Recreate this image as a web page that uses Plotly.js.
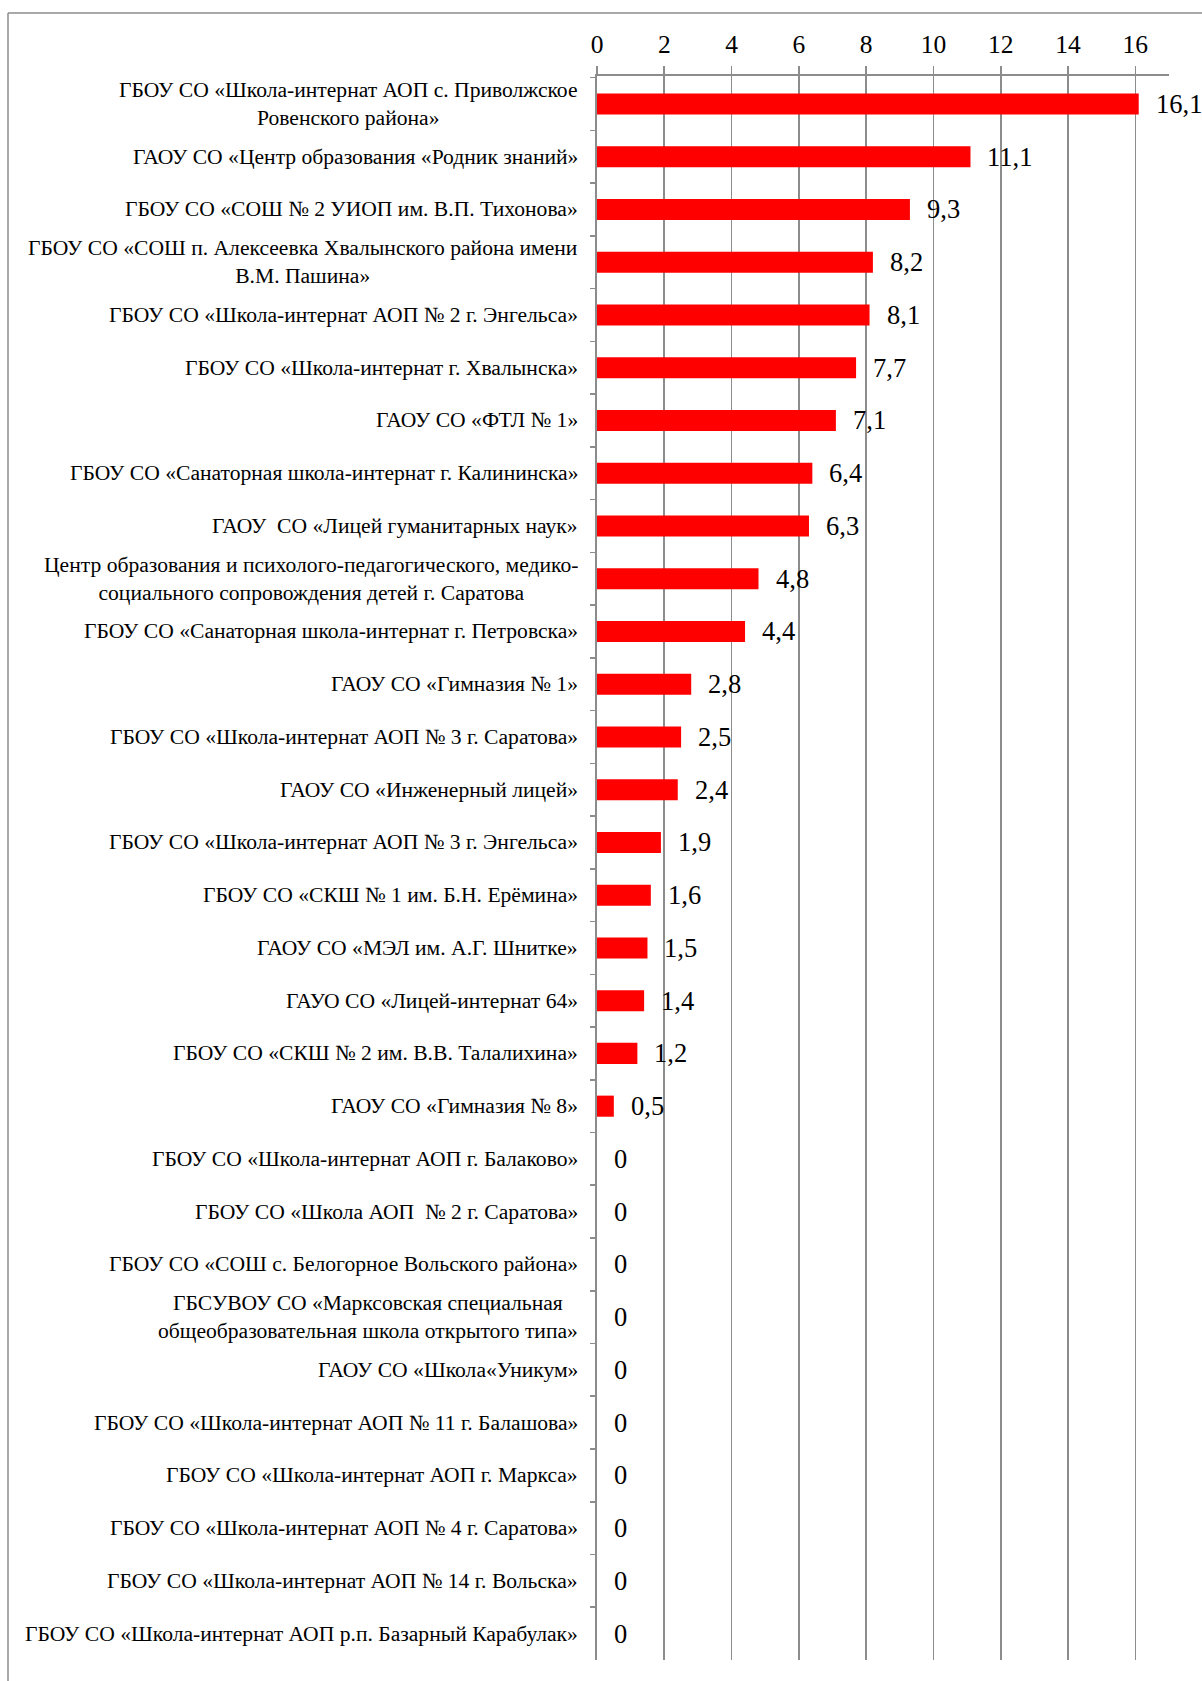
<!DOCTYPE html>
<html>
<head>
<meta charset="utf-8">
<script src="https://cdn.plot.ly/plotly-3.0.1.min.js"></script>
<style>
  html, body { margin: 0; padding: 0; background: #ffffff; }
  #chart { width: 1202px; height: 1681px; }
</style>
</head>
<body>
<div id="chart"></div>
<script>
// ---- Data ----
var categories = [
  "ГБОУ СО «Школа-интернат АОП с. Приволжское<br>Ровенского района»",
  "ГАОУ СО «Центр образования «Родник знаний»",
  "ГБОУ СО «СОШ № 2 УИОП им. В.П. Тихонова»",
  "ГБОУ СО «СОШ п. Алексеевка Хвалынского района имени<br>В.М. Пашина»",
  "ГБОУ СО «Школа-интернат АОП № 2 г. Энгельса»",
  "ГБОУ СО «Школа-интернат г. Хвалынска»",
  "ГАОУ СО «ФТЛ № 1»",
  "ГБОУ СО «Санаторная школа-интернат г. Калининска»",
  "ГАОУ\u00a0 СО «Лицей гуманитарных наук»",
  "Центр образования и психолого-педагогического, медико-<br>социального сопровождения детей г. Саратова",
  "ГБОУ СО «Санаторная школа-интернат г. Петровска»",
  "ГАОУ СО «Гимназия № 1»",
  "ГБОУ СО «Школа-интернат АОП № 3 г. Саратова»",
  "ГАОУ СО «Инженерный лицей»",
  "ГБОУ СО «Школа-интернат АОП № 3 г. Энгельса»",
  "ГБОУ СО «СКШ № 1 им. Б.Н. Ерёмина»",
  "ГАОУ СО «МЭЛ им. А.Г. Шнитке»",
  "ГАУО СО «Лицей-интернат 64»",
  "ГБОУ СО «СКШ № 2 им. В.В. Талалихина»",
  "ГАОУ СО «Гимназия № 8»",
  "ГБОУ СО «Школа-интернат АОП г. Балаково»",
  "ГБОУ СО «Школа АОП\u00a0 № 2 г. Саратова»",
  "ГБОУ СО «СОШ с. Белогорное Вольского района»",
  "ГБСУВОУ СО «Марксовская специальная<br>общеобразовательная школа открытого типа»",
  "ГАОУ СО «Школа«Уникум»",
  "ГБОУ СО «Школа-интернат АОП № 11 г. Балашова»",
  "ГБОУ СО «Школа-интернат АОП г. Маркса»",
  "ГБОУ СО «Школа-интернат АОП № 4 г. Саратова»",
  "ГБОУ СО «Школа-интернат АОП № 14 г. Вольска»",
  "ГБОУ СО «Школа-интернат АОП р.п. Базарный Карабулак»"
];
var values = [16.1, 11.1, 9.3, 8.2, 8.1, 7.7, 7.1, 6.4, 6.3, 4.8, 4.4, 2.8, 2.5, 2.4, 1.9, 1.6, 1.5, 1.4, 1.2, 0.5, 0, 0, 0, 0, 0, 0, 0, 0, 0, 0];
var xTickVals = [0, 2, 4, 6, 8, 10, 12, 14, 16];
var xTickText = ["0", "2", "4", "6", "8", "10", "12", "14", "16"];

// ---- Chart ----
var FONT = "'Liberation Serif', 'DejaVu Serif', serif";
var GRAY = "#8c8c8c";
var W = 1202, H = 1681;
var M = { l: 597, r: 33, t: 76, b: 21 };
var plotW = W - M.l - M.r, plotH = H - M.t - M.b;
function pxToPaperX(px) { return (px - M.l) / plotW; }
function pxToPaperY(py) { return 1 - (py - M.t) / plotH; }

var trace = {
  type: "bar",
  orientation: "h",
  x: values,
  y: categories,
  marker: { color: "#FF0000", line: { width: 0 } },
  hoverinfo: "none",
  cliponaxis: false
};

var annotations = [];
categories.forEach(function (c, i) {
  annotations.push({
    xref: "paper", yref: "y",
    x: 0, y: c,
    xanchor: "right", yanchor: "middle",
    xshift: -17,
    align: "center",
    text: c,
    showarrow: false,
    font: { family: FONT, size: 21.6, color: "#000000" }
  });
  annotations.push({
    xref: "x", yref: "y",
    x: values[i], y: c,
    xanchor: "left", yanchor: "middle",
    xshift: 15,
    text: String(values[i]).replace(".", ","),
    showarrow: false,
    font: { family: FONT, size: 26.5, color: "#000000" }
  });
});

var shapes = [
  { type: "line", xref: "paper", yref: "paper",
    x0: pxToPaperX(8), x1: pxToPaperX(1210), y0: pxToPaperY(13), y1: pxToPaperY(13),
    line: { color: GRAY, width: 1.5 } },
  { type: "line", xref: "paper", yref: "paper",
    x0: pxToPaperX(8), x1: pxToPaperX(8), y0: pxToPaperY(13), y1: pxToPaperY(1690),
    line: { color: GRAY, width: 1.5 } }
];

var layout = {
  width: W, height: H,
  margin: M,
  paper_bgcolor: "#ffffff",
  plot_bgcolor: "#ffffff",
  showlegend: false,
  bargap: 0.6,
  font: { family: FONT, color: "#000000" },
  xaxis: {
    side: "top",
    range: [0, 17],
    tickmode: "array",
    tickvals: xTickVals,
    ticktext: xTickText,
    showgrid: true, gridcolor: GRAY, gridwidth: 1.6,
    showline: true, linecolor: GRAY, linewidth: 1.6,
    ticks: "outside", ticklen: 8, tickcolor: GRAY, tickwidth: 1.6,
    ticklabelstandoff: 3,
    zeroline: false,
    tickfont: { family: FONT, size: 25.5, color: "#000000" },
    fixedrange: true
  },
  yaxis: {
    type: "category",
    autorange: "reversed",
    showticklabels: false,
    ticks: "outside", tickson: "boundaries", ticklen: 5, tickcolor: GRAY, tickwidth: 1.6,
    showline: true, linecolor: GRAY, linewidth: 1.6,
    showgrid: false, zeroline: false,
    fixedrange: true
  },
  annotations: annotations,
  shapes: shapes
};

Plotly.newPlot("chart", [trace], layout, { staticPlot: true, displayModeBar: false });
</script>
</body>
</html>
